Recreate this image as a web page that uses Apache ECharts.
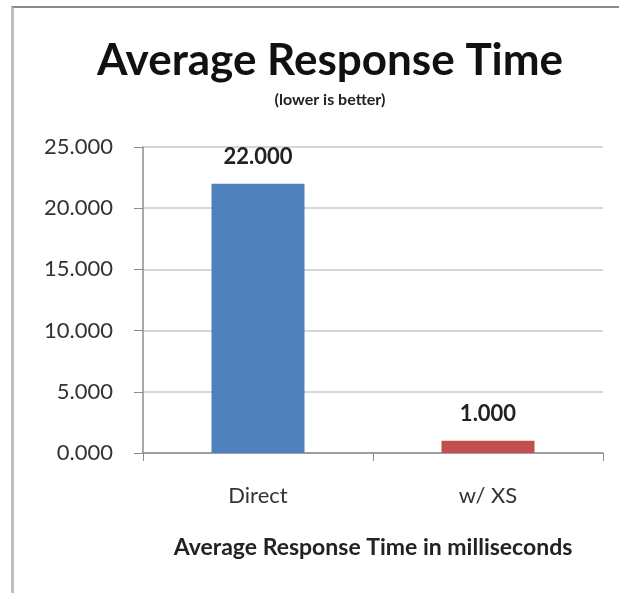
<!DOCTYPE html>
<html>
<head>
<meta charset="utf-8">
<script src="https://cdn.jsdelivr.net/npm/echarts@6/dist/echarts.min.js"></script>
<style>
  html, body { margin: 0; padding: 0; background: #fff; overflow: hidden; }
  #wrap { position: relative; width: 619px; height: 593px; overflow: hidden; }
  #frame { position: absolute; left: 11px; top: 6px; width: 620px; height: 600px;
           border-left: 3px solid #bdbdbd; border-top: 2px solid #8a8a8a; }
  #chart { position: absolute; left: 0; top: 0; width: 619px; height: 593px; }
</style>
</head>
<body>
<div id="wrap">
  <div id="frame"></div>
  <div id="chart"></div>
</div>
<script>
// categories and values (ms)
var categories = ["Direct", "w/ XS"];
var responseTimes = [22, 1];
var barColors = ["#4F81BD", "#C0504D"];
var yTicks = { min: 0, max: 25, interval: 5 };

var chart = echarts.init(document.getElementById("chart"));

var fmt = function (v) { return Number(v).toFixed(3); };

chart.setOption({
  animation: false,
  title: {
    text: "Average Response Time",
    subtext: "(lower is better)",
    left: 325,
    textAlign: "center",
    top: 34,
    itemGap: 9,
    textStyle: { fontFamily: "Lato", fontWeight: "bold", fontSize: 44, color: "#111" },
    subtextStyle: { fontFamily: "Lato", fontWeight: "bold", fontSize: 16, color: "#222" }
  },
  grid: { left: 143, right: 16, top: 147, bottom: 140 },
  xAxis: {
    type: "category",
    data: categories,
    name: "Average Response Time in milliseconds",
    nameLocation: "middle",
    nameGap: 83,
    nameTextStyle: { fontFamily: "Lato", fontWeight: "bold", fontSize: 23, color: "#222" },
    axisLine: { lineStyle: { color: "#8c8c8c", width: 1.5 } },
    axisTick: { show: true, length: 8, lineStyle: { color: "#8c8c8c" } },
    axisLabel: { margin: 32, fontFamily: "Lato", fontSize: 22, color: "#333" }
  },
  yAxis: {
    type: "value",
    min: yTicks.min,
    max: yTicks.max,
    interval: yTicks.interval,
    axisLine: { show: true, lineStyle: { color: "#8c8c8c", width: 1.5 } },
    axisTick: { show: true, length: 9, lineStyle: { color: "#8c8c8c" } },
    splitLine: { lineStyle: { color: "#c8c8c8", width: 1.5 } },
    axisLabel: { margin: 30, fontFamily: "Lato", fontSize: 22, color: "#333", formatter: fmt }
  },
  series: [{
    type: "bar",
    barWidth: 93,
    data: responseTimes.map(function (v, i) {
      return { value: v, itemStyle: { color: barColors[i] } };
    }),
    label: {
      show: true,
      position: "top",
      distance: 16,
      fontFamily: "Lato",
      fontWeight: "bold",
      fontSize: 22,
      color: "#222",
      formatter: function (p) { return fmt(p.value); }
    }
  }]
});
</script>
</body>
</html>
